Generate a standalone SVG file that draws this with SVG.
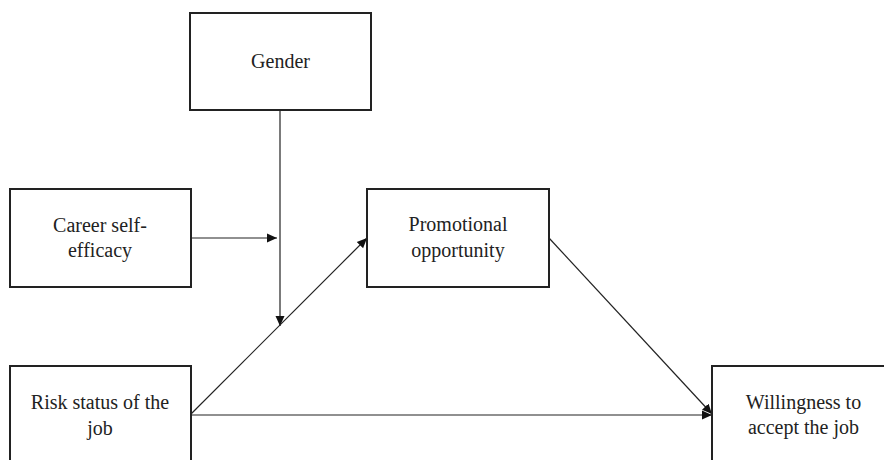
<svg xmlns="http://www.w3.org/2000/svg" width="884" height="460" viewBox="0 0 884 460">
<style>
.box{fill:#fff;stroke:#222;stroke-width:2}
.t{font-family:'Liberation Serif','Tinos','Times New Roman','DejaVu Serif',serif;font-size:20px;fill:#222;text-anchor:middle}
.c{stroke:#222;stroke-width:1.2;fill:none}
</style>
<defs>
<marker id="ah" viewBox="0 0 10 10" refX="10" refY="5" markerWidth="10" markerHeight="10" markerUnits="userSpaceOnUse" orient="auto">
<path d="M0,0.5 L10,5 L0,9.5 Z" fill="#111"/>
</marker>
</defs>
<rect width="884" height="460" fill="#fff"/>
<g id="connectors">
<line class="c" x1="280" y1="110" x2="280" y2="326" marker-end="url(#ah)"/>
<line class="c" x1="191" y1="238" x2="277" y2="238" marker-end="url(#ah)"/>
<line class="c" x1="191" y1="414" x2="367" y2="238" marker-end="url(#ah)"/>
<line class="c" x1="191" y1="415" x2="712" y2="415" marker-end="url(#ah)"/>
<line class="c" x1="549" y1="238" x2="712" y2="414" marker-end="url(#ah)"/>
</g>
<g id="gender">
<rect class="box" x="190" y="13" width="181" height="97"/>
<text class="t" font-family="Liberation Serif, serif" x="280.5" y="68">Gender</text>
</g>
<g id="career">
<rect class="box" x="10" y="189" width="181" height="98"/>
<text class="t" font-family="Liberation Serif, serif" x="100" y="232">Career self-</text>
<text class="t" font-family="Liberation Serif, serif" x="100" y="257">efficacy</text>
</g>
<g id="promotional">
<rect class="box" x="367" y="189" width="182" height="98"/>
<text class="t" font-family="Liberation Serif, serif" x="458" y="231">Promotional</text>
<text class="t" font-family="Liberation Serif, serif" x="458" y="257">opportunity</text>
</g>
<g id="risk">
<rect class="box" x="10" y="366" width="181" height="104"/>
<text class="t" font-family="Liberation Serif, serif" x="100" y="409">Risk status of the</text>
<text class="t" font-family="Liberation Serif, serif" x="100" y="435">job</text>
</g>
<g id="willingness">
<rect class="box" x="712" y="366" width="183" height="104"/>
<text class="t" font-family="Liberation Serif, serif" x="803.5" y="409">Willingness to</text>
<text class="t" font-family="Liberation Serif, serif" x="803.5" y="434">accept the job</text>
</g>
</svg>
